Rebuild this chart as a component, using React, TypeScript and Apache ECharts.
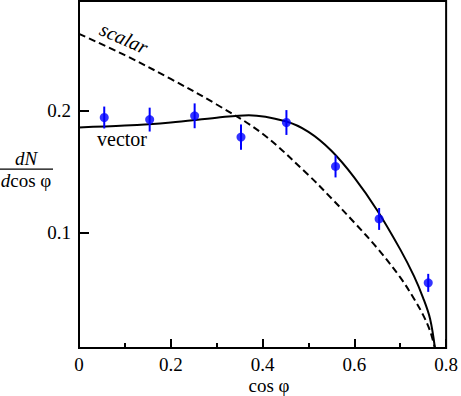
import React, { useEffect, useRef } from 'react';
import * as echarts from 'echarts';

// measured data points (cos phi, dN/dcos phi) with error half-widths
const pointX = [0.055, 0.154, 0.252, 0.353, 0.452, 0.559, 0.654, 0.761];
const pointY = [0.1943, 0.1926, 0.1957, 0.1782, 0.1902, 0.1541, 0.111, 0.0585];
const pointErr = [0.009, 0.0098, 0.0102, 0.0104, 0.0102, 0.009, 0.009, 0.0074];

// vector model curve
const vectorX = [0, 0.1, 0.2, 0.3, 0.37, 0.45, 0.5, 0.55, 0.6, 0.65, 0.7, 0.73, 0.75, 0.765, 0.7756];
const vectorY = [0.1862, 0.1877, 0.1903, 0.1942, 0.1962, 0.1912, 0.1825, 0.167, 0.145, 0.118, 0.086, 0.064, 0.046, 0.029, 0.005];

// scalar model curve
const scalarX = [0, 0.1, 0.2, 0.3, 0.4, 0.5, 0.55, 0.6, 0.65, 0.7, 0.73, 0.75, 0.765, 0.7756];
const scalarY = [0.263, 0.2455, 0.226, 0.205, 0.181, 0.147, 0.128, 0.108, 0.087, 0.063, 0.0455, 0.032, 0.019, 0.005];

// axis ticks
const yTickValues = [0.1, 0.2];
const xMin = 0;
const xMax = 0.8;
const xInterval = 0.2;
const yMin = 0.005;
const yMax = 0.29;

const FONT = 'Liberation Serif';

export default function App() {
  const ref = useRef<HTMLDivElement>(null);
  useEffect(() => {
    const chart = echarts.init(ref.current!, null, { renderer: 'svg' });
    chart.setOption({
      animation: false,
      grid: {
        left: 79,
        right: 11,
        top: 1,
        bottom: 48,
        show: true,
        borderColor: '#000',
        borderWidth: 2,
      },
      xAxis: {
        type: 'value',
        min: xMin,
        max: xMax,
        interval: xInterval,
        axisLine: { show: true, lineStyle: { color: '#000', width: 2 } },
        axisTick: { show: true, inside: true, length: 9, lineStyle: { color: '#000', width: 2 } },
        minorTick: { show: true, splitNumber: 2, length: 5, lineStyle: { color: '#000', width: 2 } },
        splitLine: { show: false },
        axisLabel: {
          color: '#000',
          fontFamily: FONT,
          fontSize: 19,
          margin: 7,
          formatter: (v: number) => (v === 0 ? '0' : v.toFixed(1)),
        },
      },
      yAxis: {
        type: 'value',
        min: yMin,
        max: yMax,
        axisLine: { show: true, lineStyle: { color: '#000', width: 2 } },
        axisTick: {
          show: true,
          inside: true,
          length: 10,
          customValues: yTickValues,
          lineStyle: { color: '#000', width: 2 },
        },
        splitLine: { show: false },
        axisLabel: {
          color: '#000',
          fontFamily: FONT,
          fontSize: 19,
          margin: 8,
          customValues: yTickValues,
          formatter: (v: number) => v.toFixed(1),
        },
      },
      series: [
        {
          type: 'line',
          name: 'scalar',
          data: scalarX.map((x, i) => [x, scalarY[i]]),
          showSymbol: false,
          smooth: 0.35,
          lineStyle: { color: '#000', width: 2, type: [7, 4] },
          z: 2,
        },
        {
          type: 'line',
          name: 'vector',
          data: vectorX.map((x, i) => [x, vectorY[i]]),
          showSymbol: false,
          smooth: 0.35,
          lineStyle: { color: '#000', width: 2 },
          z: 2,
        },
        {
          type: 'custom',
          name: 'errors',
          data: pointX.map((x, i) => [x, pointY[i] - pointErr[i], pointY[i] + pointErr[i]]),
          encode: { x: 0, y: [1, 2] },
          renderItem: (params: any, api: any) => {
            const lo = api.coord([api.value(0), api.value(1)]);
            const hi = api.coord([api.value(0), api.value(2)]);
            return {
              type: 'line',
              shape: { x1: lo[0], y1: lo[1], x2: hi[0], y2: hi[1] },
              style: { stroke: '#0000ff', lineWidth: 2 },
            };
          },
          z: 3,
        },
        {
          type: 'scatter',
          name: 'data',
          data: pointX.map((x, i) => [x, pointY[i]]),
          symbol: 'circle',
          symbolSize: 9,
          itemStyle: { color: '#0000ff' },
          z: 4,
        },
      ],
      graphic: [
        {
          type: 'text',
          x: 124,
          y: 38,
          rotation: (-24 * Math.PI) / 180,
          style: {
            text: 'scalar',
            fontFamily: FONT,
            fontStyle: 'italic',
            fontSize: 20,
            fill: '#000',
            align: 'center',
            verticalAlign: 'middle',
          },
        },
        {
          type: 'text',
          x: 122,
          y: 139,
          style: {
            text: 'vector',
            fontFamily: FONT,
            fontSize: 20,
            fill: '#000',
            align: 'center',
            verticalAlign: 'middle',
          },
        },
        {
          type: 'text',
          x: 26,
          y: 158,
          style: {
            text: 'dN',
            fontFamily: FONT,
            fontStyle: 'italic',
            fontSize: 19,
            fill: '#000',
            align: 'center',
            verticalAlign: 'middle',
          },
        },
        {
          type: 'rect',
          shape: { x: 0, y: 168.5, width: 53, height: 1.3 },
          style: { fill: '#000' },
        },
        {
          type: 'text',
          x: 26,
          y: 180,
          style: {
            text: '{i|d}cos φ',
            fontFamily: FONT,
            fontSize: 19,
            fill: '#000',
            align: 'center',
            verticalAlign: 'middle',
            rich: {
              i: { fontFamily: FONT, fontStyle: 'italic', fontSize: 19, fill: '#000' },
            },
          },
        },
        {
          type: 'text',
          x: 269,
          y: 385,
          style: {
            text: 'cos φ',
            fontFamily: FONT,
            fontSize: 19,
            fill: '#000',
            align: 'center',
            verticalAlign: 'middle',
          },
        },
      ],
    });
    return () => chart.dispose();
  }, []);
  return (
    <div
      ref={ref}
      style={{ position: 'absolute', left: 0, top: 0, width: 461, height: 396 }}
    />
  );
}
